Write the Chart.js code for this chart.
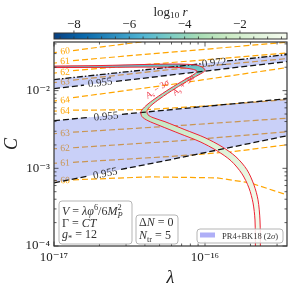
<!DOCTYPE html>
<html>
<head>
<meta charset="utf-8">
<script src="https://cdn.jsdelivr.net/npm/chart.js@4.4.0/dist/chart.umd.min.js"></script>
<style>
  html, body { margin: 0; padding: 0; background: #fff; }
  #wrap { position: relative; width: 292px; height: 291px; }
  canvas { position: absolute; left: 0; top: 0; }
</style>
</head>
<body>
<div id="wrap">
  <canvas id="mainChart" width="292" height="291"></canvas>
  <canvas id="cbarChart" width="292" height="40"></canvas>
</div>
<script>
// every point below is [log10 lambda, log10 C]; null = break for a contour label
const lamRange = [-17, -15.457];
const cRange = [-4, -1.374];
const rRange = [-8.72, -0.30];   // log10 r colour bar

// N contours (orange dashed)
const n60a = [[-17, -1.510], [-16.98, -1.506], null, [-16.874, -1.484], [-16.033, -1.276]];
const n61a = [[-17, -1.645], [-16.98, -1.641], null, [-16.874, -1.613], [-15.457, -1.377]];
const n62a = [[-17, -1.774], [-16.98, -1.770], null, [-16.874, -1.742], [-16.265, -1.645], [-15.457, -1.516]];
const n63a = [[-17, -1.897], [-16.98, -1.892], null, [-16.874, -1.865], [-16.232, -1.729], [-15.457, -1.587]];
const n64a = [[-17, -2.135], [-16.98, -2.129], null, [-16.874, -2.090], [-16.232, -1.923], [-15.457, -1.703]];
const n64b = [[-17, -2.265], [-16.98, -2.262], null, [-16.874, -2.252], [-16.397, -2.245], [-15.967, -2.194], [-15.457, -2.116]];
const n63b = [[-17, -2.555], [-16.98, -2.552], null, [-16.874, -2.535], [-16.232, -2.458], [-15.457, -2.355]];
const n62b = [[-17, -2.748], [-16.98, -2.746], null, [-16.874, -2.735], [-16.232, -2.654], [-15.457, -2.529]];
const n61b = [[-17, -2.935], [-16.98, -2.933], null, [-16.874, -2.923], [-16.232, -2.848], [-15.821, -2.787], [-15.457, -2.697]];
const n60b = [[-17, -3.161], [-16.98, -3.159], null, [-16.874, -3.148], [-16.364, -3.110], [-15.921, -3.123], [-15.702, -3.187], [-15.457, -3.342]];

// n_s contours (black), bounding the PR4+BK18 bands
const ns972 = [[-17, -1.858], [-16.020, -1.653], null, [-15.854, -1.618], [-15.457, -1.535]];
const ns955a = [[-17, -1.974], [-16.801, -1.929], null, [-16.589, -1.881], [-15.457, -1.626]];
const ns955b = [[-17, -2.387], [-16.762, -2.343], null, [-16.550, -2.305], [-15.457, -2.103]];
const ns955c = [[-17, -3.187], [-16.768, -3.097], null, [-16.556, -3.014], [-16.265, -2.903], [-15.457, -2.581]];

// A_s +/- 3 sigma curves (red)
const asPlus = [[-17, -1.684], [-16.695, -1.677], [-16.364, -1.662], [-16.166, -1.658], [-16.060, -1.671],
  [-16.013, -1.703], [-16.000, -1.742], [-16.027, -1.781], [-16.099, -1.858], [-16.199, -1.974],
  [-16.298, -2.103], [-16.358, -2.194], [-16.384, -2.258], [-16.378, -2.310], [-16.344, -2.348],
  [-16.265, -2.400], [-16.133, -2.503], [-16.000, -2.606], [-15.887, -2.723], [-15.795, -2.852],
  [-15.722, -3.019], [-15.676, -3.213], [-15.649, -3.406], [-15.636, -3.665], [-15.633, -4.052]];
const asMinus = [[-17, -1.703], [-16.695, -1.701], [-16.364, -1.697], [-16.166, -1.703], [-16.086, -1.723],
  [-16.053, -1.748], [-16.066, -1.781], [-16.133, -1.858], [-16.232, -1.974], [-16.331, -2.103],
  [-16.391, -2.194], [-16.424, -2.271], [-16.417, -2.335], [-16.378, -2.387], [-16.298, -2.452],
  [-16.166, -2.555], [-16.033, -2.658], [-15.921, -2.774], [-15.828, -2.903], [-15.755, -3.071],
  [-15.709, -3.252], [-15.682, -3.445], [-15.669, -3.665], [-15.666, -4.052]];

// contour labels: text, log10 lambda, log10 C, rotation (deg)
const nTags = [['60', -16.927, -1.484, -7], ['61', -16.927, -1.613, -5], ['62', -16.927, -1.755, -4.5],
  ['63', -16.927, -1.877, -6], ['64', -16.927, -2.116, -8], ['64', -16.927, -2.258, 0],
  ['63', -16.927, -2.542, -3.5], ['62', -16.927, -2.735, -3.7], ['61', -16.927, -2.925, -3.5],
  ['60', -16.927, -3.148, -2.3]];
const nsTags = [['0.955', -16.695, -1.890, -6.6], ['0.972', -15.940, -1.632, -6.1],
  ['0.955', -16.656, -2.323, -5.4], ['0.955', -16.662, -3.058, -11.3]];
const asTags = [['−', -16.318, -1.974, -35], ['+', -16.146, -1.923, -42]];

const FONT = '"Liberation Serif", "DejaVu Serif", serif';
const ORANGE = '#ffa500';
const INK = '#333';
const bandColor = 'rgba(100, 120, 235, 0.35)';
const cmap = ['#084081', '#0868ac', '#2b8cbe', '#4eb3d3', '#7bccc4', '#a8ddb5', '#ccebc5', '#e0f3db', '#f7fcf0'];
const fillStops = [[-1.66, '#5dbccb'], [-1.80, '#8fd3bd'], [-2.25, '#b9e3bd'], [-2.70, '#dcf1d6'], [-3.40, '#f3f9ea']];

const toXY = arr => arr.map(p => p ? { x: 10 ** p[0], y: 10 ** p[1] } : { x: null, y: null });
const closed = (a, b) => toXY(a.filter(Boolean).concat(b.filter(Boolean).reverse()));

const supMap = { '-': '⁻', '0': '⁰', '1': '¹', '2': '²', '3': '³', '4': '⁴', '5': '⁵', '6': '⁶', '7': '⁷', '8': '⁸', '9': '⁹' };
function powLabel(v) {
    const e = Math.log10(v);
    const r = Math.round(e);
    if (Math.abs(e - r) > 1e-6) return '';
    return '10' + String(r).split('').map(ch => supMap[ch]).join('');
}

// small rich-text helper: segs = [[text, 'i sub' ...]]
function drawRich(ctx, segs, x, y, size, align) {
    const parts = segs.map(([t, k]) => {
        const f = k.split(' ');
        const small = f.includes('sup') || f.includes('sub');
        ctx.font = (f.includes('i') ? 'italic ' : '') + (small ? size * 0.7 : size).toFixed(1) + 'px ' + FONT;
        return { t, f, font: ctx.font, w: ctx.measureText(t).width,
            dy: f.includes('sup') ? -size * 0.4 : f.includes('sub') ? size * 0.22 : 0 };
    });
    let cx = 0, lastX = 0, total = 0;
    for (const p of parts) {
        if (p.f.includes('back')) { p.x = lastX; cx = Math.max(cx, lastX + p.w); }
        else { p.x = cx; lastX = cx; cx += p.w; }
        total = Math.max(total, cx);
    }
    const x0 = align === 'center' ? x - total / 2 : align === 'right' ? x - total : x;
    ctx.textBaseline = 'alphabetic';
    ctx.textAlign = 'left';
    for (const p of parts) {
        ctx.font = p.font;
        ctx.fillText(p.t, x0 + p.x, y + p.dy);
    }
}

function drawTag(chart, segs, lam, c, rot, size, color) {
    const { ctx, scales: { x, y } } = chart;
    ctx.save();
    ctx.translate(x.getPixelForValue(10 ** lam), y.getPixelForValue(10 ** c));
    ctx.rotate(rot * Math.PI / 180);
    ctx.fillStyle = color;
    drawRich(ctx, segs, 0, size * 0.35, size, 'center');
    ctx.restore();
}

function logTicks(scale) {
    const out = [];
    const lo = Math.floor(Math.log10(scale.min) + 1e-9);
    const hi = Math.ceil(Math.log10(scale.max) - 1e-9);
    for (let d = lo; d <= hi; d++) {
        for (let m = 1; m <= 9; m++) {
            const v = m * 10 ** d;
            if (v >= scale.min * 0.9999 && v <= scale.max * 1.0001) out.push({ v, major: m === 1 });
        }
    }
    return out;
}

function roundBox(ctx, x, y, w, h, r) {
    ctx.beginPath();
    ctx.moveTo(x + r, y);
    ctx.arcTo(x + w, y, x + w, y + h, r);
    ctx.arcTo(x + w, y + h, x, y + h, r);
    ctx.arcTo(x, y + h, x, y, r);
    ctx.arcTo(x, y, x + w, y, r);
    ctx.closePath();
    ctx.fillStyle = 'rgba(255,255,255,0.85)';
    ctx.fill();
    ctx.strokeStyle = '#b5b5b5';
    ctx.lineWidth = 1;
    ctx.stroke();
}

const annotate = {
    id: 'annotate',
    beforeDatasetsDraw(chart) {
        // orange labels sit under the translucent bands
        nTags.forEach(([t, l, c, r]) => drawTag(chart, [[t, 'r']], l, c, r, 9.5, ORANGE));
    },
    afterDatasetsDraw(chart) {
        nsTags.forEach(([t, l, c, r]) => drawTag(chart, [[t, 'r']], l, c, r, 11, INK));
        asTags.forEach(([s, l, c, r]) => drawTag(chart, [['A', 'i'], ['s', 'i sub'], [' ' + s + ' 3', 'r'], ['σ', 'i']], l, c, r, 9, '#ee3344'));
    },
    afterDraw(chart) {
        const { ctx, chartArea: a, scales: { x, y } } = chart;
        ctx.save();
        // inward ticks on all four sides
        ctx.strokeStyle = INK;
        ctx.lineWidth = 0.8;
        ctx.beginPath();
        logTicks(x).forEach(t => {
            const px = x.getPixelForValue(t.v), len = t.major ? 4.5 : 2.5;
            ctx.moveTo(px, a.bottom); ctx.lineTo(px, a.bottom - len);
            ctx.moveTo(px, a.top); ctx.lineTo(px, a.top + len);
        });
        logTicks(y).forEach(t => {
            const py = y.getPixelForValue(t.v), len = t.major ? 4.5 : 2.5;
            ctx.moveTo(a.left, py); ctx.lineTo(a.left + len, py);
            ctx.moveTo(a.right, py); ctx.lineTo(a.right - len, py);
        });
        ctx.stroke();
        ctx.lineWidth = 1.2;
        ctx.strokeRect(a.left, a.top, a.right - a.left, a.bottom - a.top);

        // parameter boxes
        roundBox(ctx, a.left + 5, a.bottom - 45, 73, 43, 3);
        ctx.fillStyle = INK;
        drawRich(ctx, [['V', 'i'], [' = ', 'r'], ['λφ', 'i'], ['6', 'sup'], ['/6', 'r'], ['M', 'i'], ['P', 'i sub'], ['2', 'sup back']], a.left + 8, a.bottom - 31, 12, 'left');
        drawRich(ctx, [['Γ', 'r'], [' = ', 'r'], ['CT', 'i']], a.left + 8, a.bottom - 19.5, 12, 'left');
        drawRich(ctx, [['g', 'i'], ['*', 'sub'], [' = 12', 'r']], a.left + 8, a.bottom - 8, 12, 'left');

        roundBox(ctx, a.left + 82, a.bottom - 31, 42, 29, 3);
        ctx.fillStyle = INK;
        drawRich(ctx, [['Δ', 'r'], ['N', 'i'], [' = 0', 'r']], a.left + 85, a.bottom - 20, 12, 'left');
        drawRich(ctx, [['N', 'i'], ['tr', 'sub'], [' = 5', 'r']], a.left + 85, a.bottom - 7, 12, 'left');

        // legend
        roundBox(ctx, a.right - 90, a.bottom - 17, 86, 14, 3);
        ctx.fillStyle = 'rgba(110, 110, 240, 0.55)';
        ctx.fillRect(a.right - 87, a.bottom - 13.5, 15, 5);
        ctx.fillStyle = INK;
        drawRich(ctx, [['PR4+BK18 (2', 'r'], ['σ', 'i'], [')', 'r']], a.right - 65, a.bottom - 7.5, 8.5, 'left');
        ctx.restore();
    }
};

const lineDs = (pts, color, width, dash, order, extra) => Object.assign({
    data: toXY(pts), showLine: true, borderColor: color, borderWidth: width, borderDash: dash,
    pointRadius: 0, fill: false, tension: 0, order
}, extra || {});

const datasets = [];
// red A_s curves on top
[asPlus, asMinus].forEach(c => datasets.push(lineDs(c, '#ee2233', 1, [], 1, { tension: 0.3 })));
// black n_s contours
datasets.push(lineDs(ns972, '#111', 1.3, [6, 2, 1.5, 2], 2));
[ns955a, ns955b, ns955c].forEach(l => datasets.push(lineDs(l, '#111', 1.3, [6, 3], 2)));
// coloured fill between the A_s curves (log10 r)
datasets.push({
    data: closed(asPlus, asMinus), showLine: true, pointRadius: 0, tension: 0.3, order: 3,
    borderColor: 'rgba(0,0,0,0)', borderWidth: 0, fill: 'shape',
    backgroundColor: (c) => {
        const ch = c.chart;
        if (!ch.chartArea) return 'rgba(0,0,0,0)';
        const ys = ch.scales.y;
        const y0 = ys.getPixelForValue(10 ** fillStops[0][0]);
        const y1 = ys.getPixelForValue(10 ** fillStops[fillStops.length - 1][0]);
        const g = ch.ctx.createLinearGradient(0, y0, 0, y1);
        fillStops.forEach(([lc, col]) => g.addColorStop((ys.getPixelForValue(10 ** lc) - y0) / (y1 - y0), col));
        return g;
    }
});
// PR4+BK18 (2 sigma) bands
[[ns972, ns955a], [ns955b, ns955c]].forEach(([top, bot]) => datasets.push({
    label: 'PR4+BK18 (2σ)', data: closed(top, bot), showLine: true, pointRadius: 0, order: 4,
    borderColor: 'rgba(0,0,0,0)', borderWidth: 0, fill: 'shape', backgroundColor: bandColor
}));
// N contours underneath
[n60a, n61a, n62a, n63a, n64a, n64b, n63b, n62b, n61b, n60b].forEach(l => datasets.push(lineDs(l, ORANGE, 1.2, [6, 3], 5)));

new Chart(document.getElementById('mainChart'), {
    type: 'scatter',
    data: { datasets },
    options: {
        responsive: false,
        animation: false,
        devicePixelRatio: 1,
        events: [],
        layout: { padding: { top: 42, right: 5, left: 0, bottom: 0 } },
        plugins: { legend: { display: false }, tooltip: { enabled: false } },
        scales: {
            x: {
                type: 'logarithmic',
                min: 10 ** lamRange[0],
                max: 10 ** lamRange[1],
                grid: { display: false, drawTicks: false },
                border: { display: false },
                ticks: { autoSkip: false, maxRotation: 0, padding: 4, color: '#222', font: { family: FONT, size: 13 }, callback: v => powLabel(v) },
                title: { display: true, text: 'λ', color: '#222', font: { family: FONT, size: 18, style: 'italic' }, padding: { top: 0, bottom: 2 } },
                afterFit: s => { s.height = 45; }
            },
            y: {
                type: 'logarithmic',
                min: 10 ** cRange[0],
                max: 10 ** cRange[1],
                grid: { display: false, drawTicks: false },
                border: { display: false },
                ticks: { autoSkip: false, padding: 4, color: '#222', font: { family: FONT, size: 13 }, callback: v => powLabel(v) },
                title: { display: true, text: 'C', color: '#222', font: { family: FONT, size: 18, style: 'italic' }, padding: { top: 1, bottom: 0 } },
                afterFit: s => { s.width = 54; }
            }
        }
    },
    plugins: [annotate]
});

// colour bar
const cbarFrame = {
    id: 'cbarFrame',
    afterDraw(chart) {
        const { ctx, chartArea: a, scales: { x } } = chart;
        ctx.save();
        ctx.strokeStyle = INK;
        ctx.lineWidth = 0.8;
        ctx.beginPath();
        for (let v = -8.5; v <= -0.5; v += 0.5) {
            const px = x.getPixelForValue(v);
            ctx.moveTo(px, a.bottom); ctx.lineTo(px, a.bottom - 2.5);
            if (v % 2 === 0) { ctx.moveTo(px, a.top); ctx.lineTo(px, a.top - 2.5); }
        }
        ctx.stroke();
        ctx.lineWidth = 1;
        ctx.strokeRect(a.left, a.top, a.right - a.left, a.bottom - a.top);
        ctx.fillStyle = '#222';
        drawRich(ctx, [['log', 'r'], ['10', 'sub'], [' r', 'i']], (a.left + a.right) / 2, 15.5, 13, 'center');
        ctx.restore();
    }
};

new Chart(document.getElementById('cbarChart'), {
    type: 'bar',
    data: {
        labels: ['r'],
        datasets: [{
            data: [rRange],
            borderWidth: 0,
            barPercentage: 1,
            categoryPercentage: 1,
            backgroundColor: (c) => {
                const a = c.chart.chartArea;
                if (!a) return cmap[0];
                const g = c.chart.ctx.createLinearGradient(a.left, 0, a.right, 0);
                cmap.forEach((col, i) => g.addColorStop(i / (cmap.length - 1), col));
                return g;
            }
        }]
    },
    options: {
        indexAxis: 'y',
        responsive: false,
        animation: false,
        devicePixelRatio: 1,
        events: [],
        layout: { padding: { left: 54, right: 5, top: 0, bottom: 1 } },
        plugins: { legend: { display: false }, tooltip: { enabled: false } },
        scales: {
            x: {
                type: 'linear',
                position: 'top',
                min: rRange[0],
                max: rRange[1],
                grid: { display: false, drawTicks: false },
                border: { display: false },
                ticks: { stepSize: 2, includeBounds: false, padding: 1, color: '#222', font: { family: FONT, size: 13 },
                    callback: v => (v < 0 ? '−' : '') + Math.abs(v) },
                afterFit: s => { s.height = 33; }
            },
            y: { display: false }
        }
    },
    plugins: [cbarFrame]
});
</script>
</body>
</html>
